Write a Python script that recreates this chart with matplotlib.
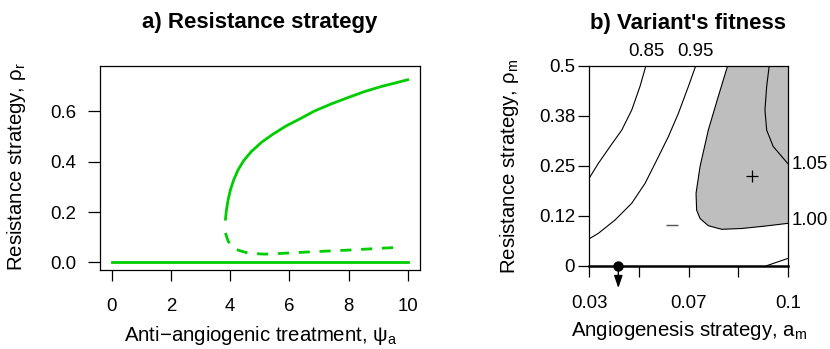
import numpy as np
import matplotlib
matplotlib.use("Agg")
import matplotlib.pyplot as plt

plt.rcParams["font.family"] = ["Liberation Sans", "DejaVu Sans"]
plt.rcParams["mathtext.fontset"] = "custom"
plt.rcParams["mathtext.rm"] = "Liberation Sans"
plt.rcParams["mathtext.it"] = "Liberation Sans:italic"

# --- panel a: bifurcation of the resistance strategy ---
psi_zero = [0.0, 10.0]
rho_zero = [0.0, 0.0]

psi_stable = [3.841, 3.875, 3.931, 4.010, 4.122, 4.268, 4.459, 4.717, 5.054,
              5.448, 5.897, 6.346, 6.852, 7.414, 7.975, 8.537, 9.099, 9.998]
rho_stable = [0.172, 0.209, 0.249, 0.289, 0.329, 0.368, 0.405, 0.441, 0.477,
              0.510, 0.543, 0.570, 0.602, 0.630, 0.655, 0.679, 0.699, 0.726]

psi_unstable = [3.841, 3.931, 4.212, 4.605, 5.167, 5.729, 6.852, 7.975, 9.661]
rho_unstable = [0.117, 0.084, 0.051, 0.037, 0.033, 0.036, 0.043, 0.049, 0.060]

# --- panel b: fitness contours of a variant ---
c085_a = [0.0500, 0.0479, 0.0450, 0.0415, 0.0374, 0.0333, 0.0300]
c085_r = [0.500, 0.448, 0.389, 0.339, 0.298, 0.256, 0.218]

c095_a = [0.0675, 0.0649, 0.0614, 0.0579, 0.0538, 0.0497, 0.0450, 0.0391, 0.0333, 0.0300]
c095_r = [0.500, 0.448, 0.381, 0.323, 0.264, 0.206, 0.156, 0.114, 0.081, 0.067]

c100_a = [0.0787, 0.0754, 0.0719, 0.0690, 0.0676, 0.0678, 0.0690, 0.0719,
          0.0766, 0.0836, 0.0918, 0.1000]
c100_r = [0.500, 0.423, 0.339, 0.248, 0.181, 0.139, 0.118, 0.100,
          0.091, 0.093, 0.099, 0.106]

c105_a = [0.0933, 0.0924, 0.0918, 0.0924, 0.0947, 0.0977, 0.1000]
c105_r = [0.500, 0.448, 0.389, 0.339, 0.298, 0.273, 0.254]

c_low_a = [0.0924, 0.1000]
c_low_r = [0.000, 0.0185]

resident_a = 0.0403
resident_r = 0.0
plus_pt = (0.0871, 0.224)
minus_pt = (0.0593, 0.102)

a_ticks = [0.03, 0.0475, 0.065, 0.0825, 0.1]
a_ticklabels = ["0.03", "", "0.07", "", "0.1"]
r_ticks = [0, 0.125, 0.25, 0.375, 0.5]
r_ticklabels = ["0", "0.12", "0.25", "0.38", "0.5"]

GREEN = "#00cd00"
FS = 13.4
FS_LAB = 14.7
W, H = 830, 349

fig = plt.figure(figsize=(8.3, 3.49), dpi=100)


def px(x, y):
    return x / W, 1 - y / H


# panel a
ax1 = fig.add_axes([100 / W, 1 - 270 / H, 319.5 / W, 204.3 / H])
ax1.plot(psi_zero, rho_zero, color=GREEN, lw=2)
ax1.plot(psi_stable, rho_stable, color=GREEN, lw=2)
ax1.plot(psi_unstable, rho_unstable, color=GREEN, lw=2, dashes=(4, 3.5))
ax1.set_xlim(-0.4, 10.4)
ax1.set_ylim(-0.03, 0.782)
ax1.set_xticks([0, 2, 4, 6, 8, 10])
ax1.set_yticks([0.0, 0.2, 0.4, 0.6])
ax1.set_yticklabels(["0.0", "0.2", "0.4", "0.6"])
ax1.tick_params(axis="x", length=8, width=0.9, pad=12, labelsize=FS)
ax1.tick_params(axis="y", length=9, width=0.9, pad=8, labelsize=FS)
for s in ax1.spines.values():
    s.set_linewidth(0.9)

fig.text(*px(260, 28), "a) Resistance strategy", fontsize=16, fontweight="bold",
         ha="center", va="baseline")
fig.text(*px(260.5, 340.6), r"Anti$-$angiogenic treatment, $\mathregular{ψ_a}$",
         fontsize=FS_LAB, ha="center", va="baseline")
fig.text(*px(17, 167), r"Resistance strategy, $\mathregular{ρ_r}$", fontsize=FS_LAB,
         rotation=90, ha="center", va="center")

# panel b
ax2 = fig.add_axes([589 / W, 1 - 265.7 / H, 199.3 / W, 200 / H])
ax2.fill(c100_a + [0.1], c100_r + [0.5], color="#bebebe", lw=0)
for ca, cr in [(c085_a, c085_r), (c095_a, c095_r), (c100_a, c100_r),
               (c105_a, c105_r), (c_low_a, c_low_r)]:
    ax2.plot(ca, cr, color="black", lw=0.8)
ax2.plot(*plus_pt, marker="+", ms=9, mew=0.9, color="black")
ax2.plot(*minus_pt, marker="_", ms=9, mew=1.0, color="#555555")
ax2.set_xlim(0.03, 0.1)
ax2.set_ylim(0, 0.5)
ax2.set_xticks(a_ticks)
ax2.set_xticklabels(a_ticklabels)
ax2.set_yticks(r_ticks)
ax2.set_yticklabels(r_ticklabels)
ax2.tick_params(axis="x", length=8, width=0.9, pad=13, labelsize=FS)
ax2.tick_params(axis="y", length=8, width=0.9, pad=2, labelsize=FS)
for s in ax2.spines.values():
    s.set_linewidth(0.9)
ax2.spines["bottom"].set_linewidth(1.8)

ax2.plot(resident_a, resident_r, "o", color="black", ms=6.5, clip_on=False, zorder=5)
ax2.annotate("", xy=(resident_a, -0.112), xycoords=("data", "axes fraction"),
             xytext=(resident_a, resident_r), textcoords="data",
             arrowprops=dict(arrowstyle="-|>,head_length=0.5,head_width=0.17",
                             mutation_scale=15, color="black", lw=1, shrinkA=0, shrinkB=0),
             annotation_clip=False)

# contour level labels
ax2.text(c085_a[0], 0.535, "0.85", fontsize=FS, ha="center", va="center", clip_on=False)
ax2.text(c095_a[0], 0.535, "0.95", fontsize=FS, ha="center", va="center", clip_on=False)
ax2.text(0.1012, c105_r[-1], "1.05", fontsize=FS, ha="left", va="center", clip_on=False)
ax2.text(0.1012, c100_r[-1] + 0.006, "1.00", fontsize=FS, ha="left", va="center", clip_on=False)

fig.text(*px(687.5, 29), "b) Variant's fitness", fontsize=16, fontweight="bold",
         ha="center", va="baseline")
fig.text(*px(689, 336.5), r"Angiogenesis strategy, $\mathregular{a_m}$",
         fontsize=FS_LAB, ha="center", va="baseline")
fig.text(*px(509, 167), r"Resistance strategy, $\mathregular{ρ_m}$", fontsize=FS_LAB,
         rotation=90, ha="center", va="center")

fig.savefig("out.png", dpi=100)
